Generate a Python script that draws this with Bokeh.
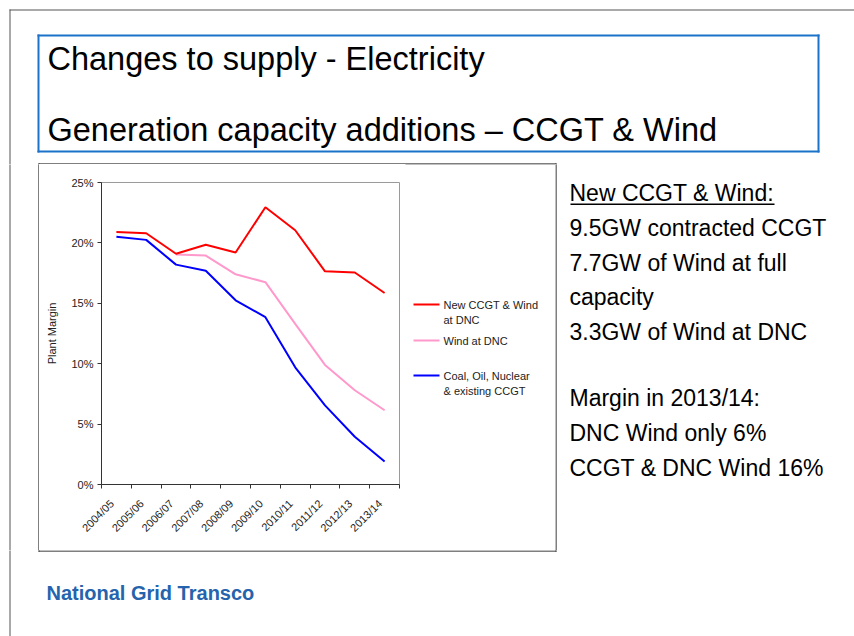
import math
from bokeh.plotting import figure
from bokeh.layouts import column, row
from bokeh.models import Range1d, FixedTicker, PrintfTickFormatter, Label, BoxAnnotation
from bokeh.embed import file_html
from bokeh.resources import INLINE

# ---------------- data ----------------
years = ["2004/05", "2005/06", "2006/07", "2007/08", "2008/09",
         "2009/10", "2010/11", "2011/12", "2012/13", "2013/14"]
new_ccgt_wind_dnc = [20.9, 20.8, 19.1, 19.85, 19.2, 22.95, 21.05, 17.65, 17.55, 15.85]
wind_dnc = [float("nan"), float("nan"), 19.05, 18.95, 17.4, 16.75, 13.3, 9.9, 7.8, 6.15]
existing = [20.5, 20.25, 18.2, 17.7, 15.25, 13.85, 9.7, 6.55, 3.95, 1.9]
y_ticks = [0, 5, 10, 15, 20, 25]
series_names = ["New CCGT & Wind\nat DNC", "Wind at DNC", "Coal, Oil, Nuclear\n& existing CCGT"]
series_colors = ["#ff0000", "#ff99cc", "#0000ff"]

title_lines = ["Changes to supply - Electricity",
               "Generation capacity additions \u2013 CCGT & Wind"]
side_lines = ["New CCGT & Wind:", "9.5GW contracted CCGT", "7.7GW of Wind at full",
              "capacity", "3.3GW of Wind at DNC", "Margin in 2013/14:",
              "DNC Wind only 6%", "CCGT & DNC Wind 16%"]
logo_text = "National Grid Transco"

# ---------------- layout (page pixels) ----------------
PW, PH = 854, 636
TOP_H = 164          # title strip: y 0..164
MID_B = 550          # middle strip: y 164..550
X_LEFT = 39          # left strip: x 0..39
X_CHART = 405        # chart figure: x 39..405
X_LEG = 555          # legend figure: x 405..555 ; side text: 555..854
FL, FT, FR, FB = 101, 182, 399, 484   # plot frame on the page
LABEL_SHIFT = 0.15   # category labels sit slightly left of the category centre

FONT = "Liberation Sans"
GREY = "#555555"


def deco(x0, x1, y0, y1):
    f = figure(width=x1 - x0, height=y1 - y0, x_range=Range1d(x0, x1),
               y_range=Range1d(y1, y0), output_backend="svg", toolbar_location=None,
               min_border=0, x_axis_type=None, y_axis_type=None, frame_align=False)
    f.outline_line_color = None
    f.background_fill_color = "white"
    f.border_fill_color = "white"
    return f


def rect(f, l, t, r, b, color):
    f.add_layout(BoxAnnotation(left=l, right=r, top=t, bottom=b,
                               fill_color=color, fill_alpha=1,
                               line_color=None, line_alpha=0))


def text(f, s, x, y, size, color="#000000", style="normal"):
    # y is the wanted baseline; Bokeh's alphabetic placement sits ~0.3em low
    f.add_layout(Label(x=x, y=y - 0.3 * size, text=s, text_font=FONT,
                       text_font_size=f"{size}px",
                       text_color=color, text_font_style=style,
                       text_align="left", text_baseline="alphabetic"))


def slide_and_box_lines(f):
    # slide border (top & left) and chart box (38..556, 163..551)
    rect(f, 9, 9, 1000, 10, GREY)
    rect(f, 9, 9, 10, 1000, GREY)
    rect(f, 38, 163, 556, 164, "#000000")
    rect(f, 38, 550, 556, 551, "#000000")
    rect(f, 38, 163, 39, 551, "#000000")
    rect(f, 555, 163, 556, 551, "#000000")


# ---- title strip ----
top = deco(0, PW, 0, TOP_H)
slide_and_box_lines(top)
BLUE = "#1a73c9"
rect(top, 37, 34, 819, 36, BLUE)
rect(top, 37, 150, 819, 152, BLUE)
rect(top, 37, 34, 39, 152, BLUE)
rect(top, 817, 34, 819, 152, BLUE)
text(top, title_lines[0], 47, 68, 32.5)
text(top, title_lines[1], 47, 139, 32.5)

# ---- left strip ----
left = deco(0, X_LEFT, TOP_H, MID_B)
slide_and_box_lines(left)

# ---- chart ----
n = len(years)
xs = list(range(n))
p = figure(width=X_CHART - X_LEFT, height=MID_B - TOP_H, output_backend="svg",
           toolbar_location=None, frame_align=False,
           x_range=Range1d(-0.5, n - 0.5), y_range=Range1d(0, 25),
           min_border_left=FL - X_LEFT, min_border_right=X_CHART - FR,
           min_border_top=FT - TOP_H, min_border_bottom=MID_B - FB)
p.background_fill_color = "white"
p.border_fill_color = "white"
p.outline_line_color = "#9a9a9a"
p.xgrid.visible = False
p.ygrid.visible = False

p.line(xs, wind_dnc, line_color=series_colors[1], line_width=2)
p.line(xs, existing, line_color=series_colors[2], line_width=2)
p.line(xs, new_ccgt_wind_dnc, line_color=series_colors[0], line_width=2)

ya = p.yaxis[0]
ya.ticker = FixedTicker(ticks=y_ticks)
ya.formatter = PrintfTickFormatter(format="%d%%")
ya.axis_line_color = "#333333"
ya.major_tick_line_color = "#333333"
ya.major_tick_out = 4
ya.major_tick_in = 0
ya.minor_tick_line_color = None
ya.major_label_text_font = FONT
ya.major_label_text_font_size = "11px"
ya.major_label_text_color = "#222222"
ya.major_label_standoff = 4
ya.axis_label = "Plant Margin"
ya.axis_label_text_font = FONT
ya.axis_label_text_font_size = "11px"
ya.axis_label_text_font_style = "normal"
ya.axis_label_text_color = "#222222"
ya.axis_label_standoff = 10

label_pos = [i - LABEL_SHIFT for i in xs]
xa = p.xaxis[0]
xa.ticker = FixedTicker(ticks=label_pos, minor_ticks=[i - 0.5 for i in range(n + 1)])
xa.major_label_overrides = {pos: y for pos, y in zip(label_pos, years)}
xa.major_label_orientation = math.pi / 4
xa.axis_line_color = "#333333"
xa.major_tick_line_color = None
xa.major_tick_out = 4
xa.major_tick_in = 0
xa.minor_tick_line_color = "#333333"
xa.minor_tick_out = 4
xa.minor_tick_in = 0
xa.major_label_text_font = FONT
xa.major_label_text_font_size = "11px"
xa.major_label_text_color = "#222222"
xa.major_label_standoff = 13

# ---- legend ----
leg = deco(X_CHART, X_LEG, TOP_H, MID_B)
slide_and_box_lines(leg)
leg_line_y = [304, 340, 375]
for name, col, ly in zip(series_names, series_colors, leg_line_y):
    rect(leg, 413, ly - 1, 439, ly + 1, col)
    for k, part in enumerate(name.split("\n")):
        text(leg, part, 443, ly + 4 + k * 14.5, 11, color="#222222")

# ---- side text ----
side = deco(X_LEG, PW, TOP_H, MID_B)
slide_and_box_lines(side)
side_baselines = [199, 234, 269, 303, 338, 404, 439, 474]
for s, b in zip(side_lines, side_baselines):
    text(side, s, 569, b, 23)
rect(side, 570, 203, 774, 204.6, "#000000")

# ---- bottom strip ----
bottom = deco(0, PW, MID_B, PH)
slide_and_box_lines(bottom)
text(bottom, logo_text, 46, 598, 20, color="#2563ad", style="bold")

layout = column(top, row(left, p, leg, side), bottom)
open("out.html", "w").write(file_html(layout, INLINE))
